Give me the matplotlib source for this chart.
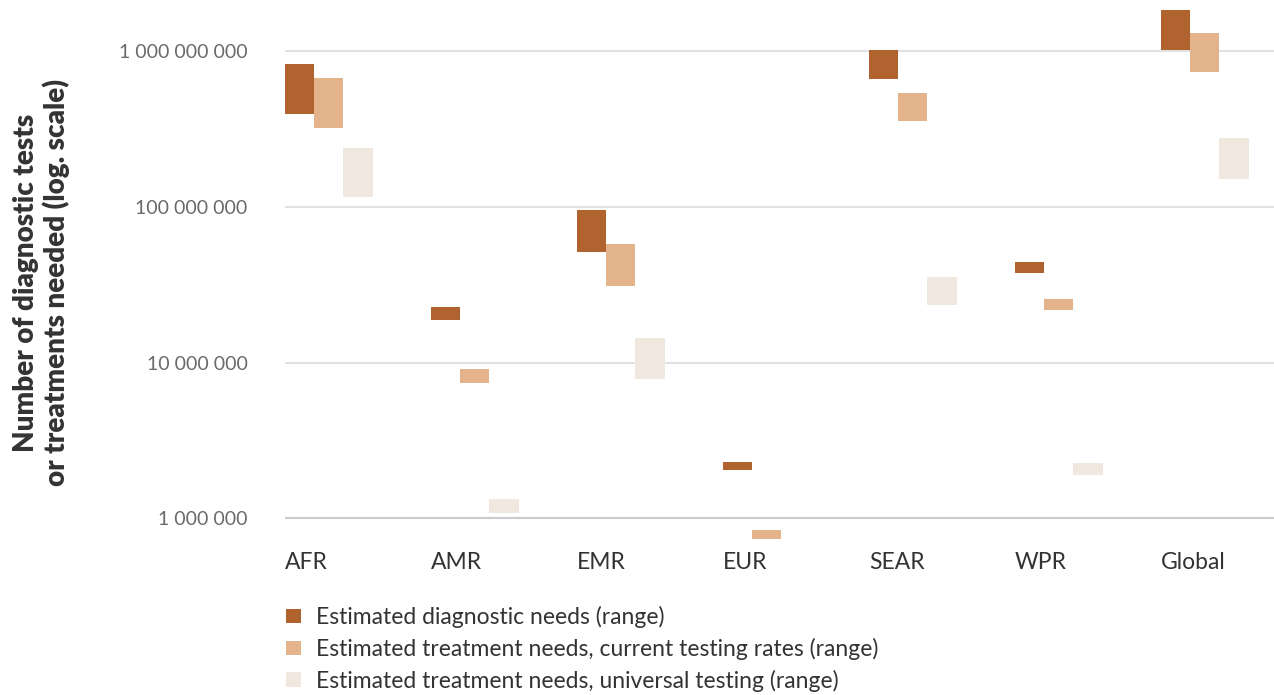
import matplotlib
matplotlib.use("Agg")
import matplotlib.pyplot as plt
from matplotlib.patches import Patch
import numpy as np

plt.rcParams['font.family'] = ['Lato', 'DejaVu Sans']

categories = ['AFR', 'AMR', 'EMR', 'EUR', 'SEAR', 'WPR', 'Global']

diag_low = [3.92e8, 1.88e7, 5.12e7, 2.03e6, 6.61e8, 3.76e7, 1.015e9]
diag_high = [8.21e8, 2.28e7, 9.54e7, 2.31e6, 1.015e9, 4.44e7, 2.0e9]

treat_cur_low = [3.22e8, 7.42e6, 3.11e7, 7.0e5, 3.54e8, 2.18e7, 7.33e8]
treat_cur_high = [6.74e8, 9.09e6, 5.77e7, 8.41e5, 5.35e8, 2.56e7, 1.30e9]

treat_uni_low = [1.16e8, 1.09e6, 7.88e6, 3.0e5, 2.34e7, 1.90e6, 1.50e8]
treat_uni_high = [2.39e8, 1.33e6, 1.44e7, 3.6e5, 3.56e7, 2.25e6, 2.75e8]

series_labels = [
    'Estimated diagnostic needs (range)',
    'Estimated treatment needs, current testing rates (range)',
    'Estimated treatment needs, universal testing (range)',
]
colors = ['#B0622F', '#E3B48B', '#F0E7DE']

ytick_vals = [1e6, 1e7, 1e8, 1e9]
ytick_labels = ['1 000 000', '10 000 000', '100 000 000', '1 000 000 000']

fig = plt.figure(figsize=(12.74, 6.95), dpi=100)
ax = fig.add_axes([0.2237, 0.22446, 0.7763, 0.76115])

x = np.arange(len(categories))
width = 0.2
series = [(diag_low, diag_high), (treat_cur_low, treat_cur_high), (treat_uni_low, treat_uni_high)]
for k, ((lo, hi), c) in enumerate(zip(series, colors)):
    lo = np.array(lo)
    hi = np.array(hi)
    ax.bar(x + k * width, hi - lo, bottom=lo, width=width, align='edge',
           color=c, linewidth=0, zorder=3)

ax.set_yscale('log')
ax.set_ylim(7.37e5, 1.833e9)
ax.set_xlim(0, 6.774)

ax.set_yticks(ytick_vals)
ax.set_yticklabels(ytick_labels, color='#6a6a6a', fontsize=14)
ax.yaxis.set_minor_locator(matplotlib.ticker.NullLocator())
ax.tick_params(axis='y', length=0, pad=27)

ax.set_xticks(x)
ax.set_xticklabels(categories, ha='left', color='#333333', fontsize=16.5)
ax.tick_params(axis='x', length=0, pad=9.5)

for v in ytick_vals:
    ax.axhline(v, color='#cccccc' if v == 1e6 else '#e2e2e2', lw=1.5, zorder=1)

for s in ax.spines.values():
    s.set_visible(False)

fig.text(0.0326, 0.593, 'Number of diagnostic tests\nor treatments needed (log. scale)',
         rotation=90, ha='center', va='center', fontsize=20, fontweight='heavy',
         color='#333333', linespacing=1.15)

handles = [Patch(facecolor=c, edgecolor='none') for c in colors]
fig.legend(handles, series_labels, loc='upper left', bbox_to_anchor=(0.2245, 0.128),
           frameon=False, fontsize=16.5, handlelength=0.66, handleheight=0.58,
           handletextpad=0.66, labelspacing=0.42, borderpad=0, borderaxespad=0,
           labelcolor='#333333')

fig.savefig('out.png', dpi=100)
